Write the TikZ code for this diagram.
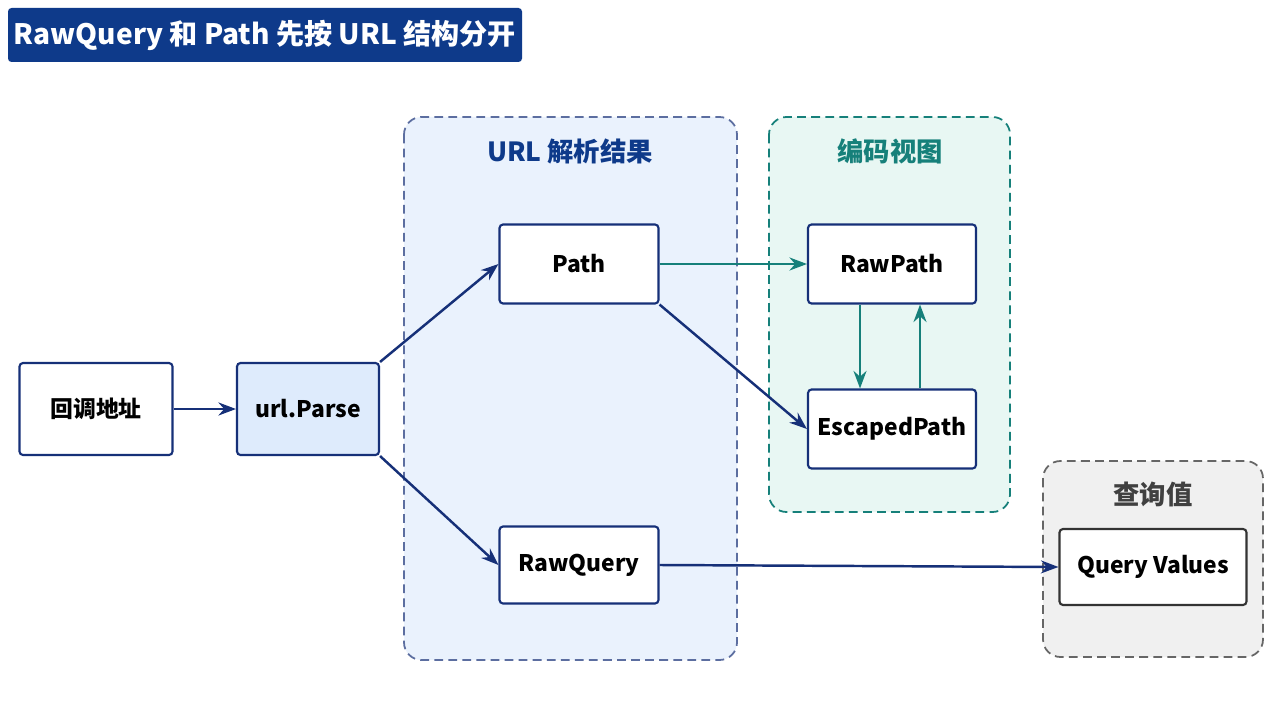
\documentclass[tikz,border=0pt]{standalone}
\usepackage{fontspec}
\setmainfont{Noto Sans CJK SC}
\usetikzlibrary{positioning, arrows.meta}
\definecolor{navycolor}{RGB}{22,48,120}
\definecolor{titlecolor}{RGB}{14,58,138}
\definecolor{tealcolor}{RGB}{22,128,122}
\definecolor{urlfill}{RGB}{234,242,253}
\definecolor{encfill}{RGB}{232,247,243}
\definecolor{qfill}{RGB}{240,240,240}
\definecolor{parsefill}{RGB}{222,235,252}
\tikzset{
  box/.style={draw=navycolor, line width=1.2pt, fill=white, rounded corners=2pt,
    font=\fontsize{13}{15}\selectfont\bfseries, text=black},
  group/.style={dash pattern=on 5pt off 3pt, line width=1pt, rounded corners=10pt},
  grouplabel/.style={font=\fontsize{15}{17}\selectfont\bfseries},
  link/.style={-{Stealth[length=3.5mm,width=2.6mm]}, line width=1.4pt, draw=navycolor},
  tlink/.style={link, draw=tealcolor}
}
\begin{document}
\begin{tikzpicture}[x=0.02cm, y=-0.02cm]
    \useasboundingbox[fill=white] (0,0) rectangle (1280,702);
    % Titre
    \node[fill=titlecolor, rounded corners=2pt, minimum width=514*0.02cm, minimum height=54*0.02cm,
      text=white, font=\fontsize{16}{18}\selectfont\bfseries] (title) at (265,35) {RawQuery 和 Path 先按 URL 结构分开};

    % Groupes
    \draw[group, draw=navycolor!70, fill=urlfill] (404,117) rectangle (737,660);
    \node[grouplabel, text=titlecolor] (urllbl) at (570,151) {URL 解析结果};
    \draw[group, draw=tealcolor, fill=encfill] (769,117) rectangle (1010,512);
    \node[grouplabel, text=tealcolor] (enclbl) at (890,151) {编码视图};
    \draw[group, draw=gray!80!black, fill=qfill] (1043,461) rectangle (1263,657);
    \node[grouplabel, text=black!75] (qlbl) at (1153,494) {查询值};

    % Noeuds
    \node[box, minimum width=153*0.02cm, minimum height=92*0.02cm] (cb) at (96,409) {回调地址};
    \node[box, fill=parsefill, minimum width=142*0.02cm, minimum height=92*0.02cm] (parse) at (308,409) {url.Parse};
    \node[box, minimum width=159*0.02cm, minimum height=79*0.02cm] (path) at (579,264) {Path};
    \node[box, minimum width=159*0.02cm, minimum height=77*0.02cm] (rq) at (579,565) {RawQuery};
    \node[box, minimum width=168*0.02cm, minimum height=79*0.02cm] (rp) at (892,264) {RawPath};
    \node[box, minimum width=168*0.02cm, minimum height=79*0.02cm] (ep) at (892,429) {EscapedPath};
    \node[box, draw=black!80, minimum width=187*0.02cm, minimum height=76*0.02cm] (qv) at (1153,567) {Query Values};

    % Flèches
    \draw[link] (cb) -- (parse);
    \draw[link] (parse.north east) -- (path.west);
    \draw[link] (parse.south east) -- (rq.west);
    \draw[link] (path.south east) -- (ep.west);
    \draw[link] (rq.east) -- (qv.west);
    \draw[tlink] (path.east) -- (rp.west);
    \draw[tlink] ([xshift=-32*0.02cm]rp.south) -- ([xshift=-32*0.02cm]ep.north);
    \draw[tlink] ([xshift=28*0.02cm]ep.north) -- ([xshift=28*0.02cm]rp.south);
\end{tikzpicture}
\end{document}
